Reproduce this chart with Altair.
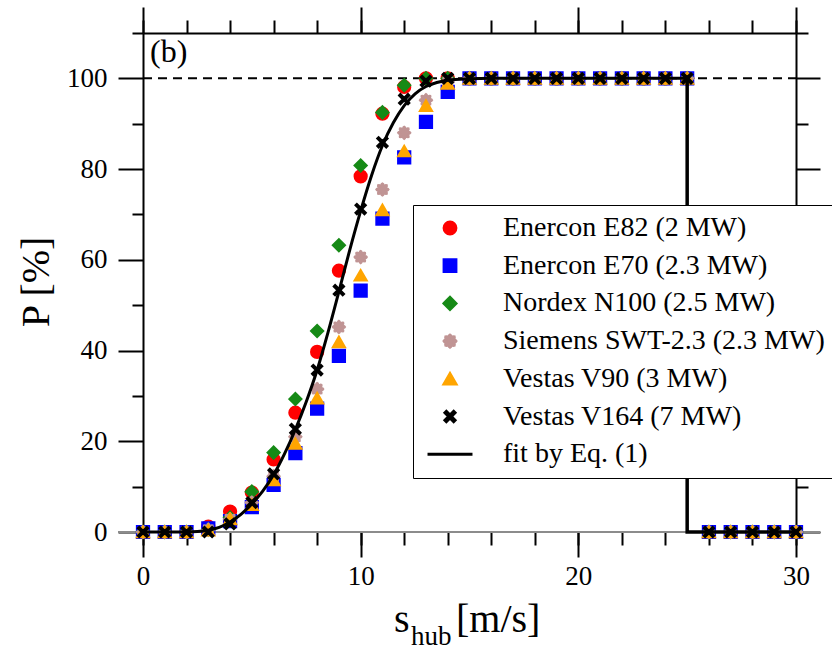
import math
import altair as alt
import pandas as pd

# ---------------- data ----------------
speeds = list(range(0, 31))

names = [
    "Enercon E82 (2 MW)",
    "Enercon E70 (2.3 MW)",
    "Nordex N100 (2.5 MW)",
    "Siemens SWT-2.3 (2.3 MW)",
    "Vestas V90 (3 MW)",
    "Vestas V164 (7 MW)",
    "fit by Eq. (1)",
]

e82 = [0, 0, 0, 1.2, 4.5, 8.7, 16.0, 26.3, 39.7, 57.6, 78.4, 92.2, 98.1, 100, 100,
       100, 100, 100, 100, 100, 100, 100, 100, 100, 100, 100, 0, 0, 0, 0, 0]
e70 = [0, 0, 0, 0.8, 2.4, 5.5, 10.4, 17.4, 27.2, 38.8, 53.2, 69.1, 82.6, 90.4, 97.0,
       100, 100, 100, 100, 100, 100, 100, 100, 100, 100, 100, 0, 0, 0, 0, 0]
n100 = [0, 0, 0, 0.5, 3.2, 8.9, 17.5, 29.3, 44.3, 63.2, 80.8, 92.5, 98.5, 100, 100,
        100, 100, 100, 100, 100, 100, 100, 100, 100, 100, 100, 0, 0, 0, 0, 0]
swt = [0, 0, 0, 0.5, 2.8, 6.5, 12.3, 21.0, 31.5, 45.2, 60.6, 75.5, 88.0, 95.2, 99.2,
       100, 100, 100, 100, 100, 100, 100, 100, 100, 100, 100, 0, 0, 0, 0, 0]
v90 = [0, 0, 0, 0.4, 2.9, 6.0, 11.5, 19.5, 29.5, 41.9, 56.6, 71.0, 84.0, 94.0, 98.9,
       100, 100, 100, 100, 100, 100, 100, 100, 100, 100, 100, 0, 0, 0, 0, 0]
v164 = [0, 0, 0, 0, 1.8, 6.5, 12.8, 22.7, 35.7, 53.3, 71.2, 85.9, 95.4, 99.4, 100,
        100, 100, 100, 100, 100, 100, 100, 100, 100, 100, 100, 0, 0, 0, 0, 0]

fit_x = [0, 1, 2, 2.5, 3, 3.5, 4, 4.5, 5, 5.5, 6, 6.5, 7, 7.5, 8, 8.5, 9, 9.5, 10,
         10.5, 11, 11.5, 12, 12.5, 13, 13.5, 14, 15, 16, 18, 20, 22, 25]
fit_y = [0, 0, 0, 0.1, 0.4, 1.0, 2.2, 3.9, 6.2, 9.0, 12.6, 17.2, 22.6, 28.7, 35.7,
         44.0, 53.0, 62.2, 70.8, 78.6, 85.2, 90.2, 94.0, 96.6, 98.2, 99.1, 99.6,
         99.9, 100, 100, 100, 100, 100]

cutout_x = [25, 25, 30]
cutout_y = [100, 0, 0]

rated_x = [0, 30]
rated_y = [100, 100]

# ---------------- styling ----------------
colors = ["#ff0000", "#0000ff", "#168a16", "#c09494", "#ffa500", "#000000", "#000000"]

x_path = ("M-0.85,-0.62L-0.62,-0.85L0,-0.23L0.62,-0.85L0.85,-0.62L0.23,0L0.85,0.62"
          "L0.62,0.85L0,0.23L-0.62,0.85L-0.85,0.62L-0.23,0Z")
ros = []
for i in range(48):
    a = 2 * math.pi * i / 48
    r = 0.84 + 0.16 * math.cos(8 * a)
    ros.append(f"{r * math.cos(a):.3f},{r * math.sin(a):.3f}")
rosette = "M" + "L".join(ros) + "Z"
line_sym = "M-3.8,0L3.8,0"
shapes = ["circle", "square", "diamond", rosette, "triangle-up", x_path, line_sym]

FONT = "Liberation Serif"
W, H = 653, 499

series = [e82, e70, n100, swt, v90, v164]
rows = []
for name, vals in zip(names[:6], series):
    for s, p in zip(speeds, vals):
        rows.append({"speed": s, "P": p, "turbine": name})
df = pd.DataFrame(rows)

xs = alt.Scale(domain=[0, 30], nice=False, zero=False)
ys = alt.Scale(domain=[0, 110], nice=False, zero=False)

common = dict(grid=False, title=None, tickColor="black", tickWidth=2,
              domainColor="black", domainWidth=2)

ax_bottom_major = alt.Axis(orient="bottom", values=[0, 10, 20, 30], tickSize=25,
                           domain=False, labelFont=FONT, labelFontSize=27,
                           labelColor="black", labelPadding=6, labelFlush=False,
                           labelOverlap=False, **common)
ax_bottom_minor = alt.Axis(orient="bottom", values=list(range(0, 31, 2)), tickSize=13,
                           domain=False, labels=False, **common)
ax_top_major = alt.Axis(orient="top", values=[0, 10, 20, 30], tickSize=26,
                        domain=True, labels=False, **common)
ax_top_minor = alt.Axis(orient="top", values=list(range(0, 31, 2)), tickSize=13,
                        domain=False, labels=False, **common)
ax_left_major = alt.Axis(orient="left", values=[0, 20, 40, 60, 80, 100], tickSize=25,
                         domain=True, labelFont=FONT, labelFontSize=27,
                         labelColor="black", labelPadding=11, labelFlush=False,
                         labelOverlap=False, **common)
ax_left_minor = alt.Axis(orient="left", values=[10, 30, 50, 70, 90, 110], tickSize=11,
                         domain=False, labels=False, **common)
ax_right_major = alt.Axis(orient="right", values=[0, 20, 40, 60, 80, 100], tickSize=24,
                          domain=True, labels=False, **common)
ax_right_minor = alt.Axis(orient="right", values=[10, 30, 50, 70, 90, 110], tickSize=12,
                          domain=False, labels=False, **common)

legend = alt.Legend(
    orient="none", legendX=270, legendY=172, title=None,
    strokeColor="black", fillColor="white", padding=9,
    labelFont=FONT, labelFontSize=28, labelColor="black", labelLimit=600,
    symbolSize=140, symbolStrokeWidth=3, symbolOffset=14, labelOffset=39,
    rowPadding=9.7, symbolOpacity=1,
)

# zero line (grey, extends beyond the frame)
zero_line = alt.Chart(pd.DataFrame({"y": [0]})).mark_rule(
    color="#8c8c8c", strokeWidth=2
).encode(x=alt.value(-25), x2=alt.value(W + 24), y=alt.Y("y:Q", scale=ys, axis=None))

rated = alt.Chart(pd.DataFrame({"x": rated_x, "y": rated_y})).mark_line(
    color="black", strokeWidth=2, strokeDash=[9, 6]
).encode(x=alt.X("x:Q", scale=xs, axis=ax_top_minor),
         y=alt.Y("y:Q", scale=ys, axis=ax_right_minor))

points = alt.Chart(df).mark_point(filled=True, size=150, opacity=1).encode(
    x=alt.X("speed:Q", scale=xs, axis=ax_bottom_major),
    y=alt.Y("P:Q", scale=ys, axis=ax_left_major),
    fill=alt.Fill("turbine:N", scale=alt.Scale(domain=names, range=colors), legend=legend),
    stroke=alt.Stroke("turbine:N", scale=alt.Scale(domain=names, range=colors)),
    shape=alt.Shape("turbine:N", scale=alt.Scale(domain=names, range=shapes)),
)

fit = alt.Chart(pd.DataFrame({"x": fit_x, "y": fit_y})).mark_line(
    color="black", strokeWidth=3, interpolate="monotone"
).encode(x=alt.X("x:Q", scale=xs, axis=ax_bottom_minor),
         y=alt.Y("y:Q", scale=ys, axis=ax_left_minor))

cutout = alt.Chart(pd.DataFrame({"x": cutout_x, "y": cutout_y, "o": [0, 1, 2]})).mark_line(
    color="black", strokeWidth=3.5
).encode(x=alt.X("x:Q", scale=xs, axis=ax_top_major),
         y=alt.Y("y:Q", scale=ys, axis=ax_right_major),
         order="o:Q")

# text annotations (panel label and axis titles)
def label(txt, x, y, size, **kw):
    return alt.Chart(pd.DataFrame({"t": [txt]})).mark_text(
        font=FONT, fontSize=size, color="black", **kw
    ).encode(x=alt.value(x), y=alt.value(y), text="t:N")

panel = label("(b)", 7, 29, 32, align="left", baseline="alphabetic")
y_title = label("P [%]", -106, 249, 40, align="center", baseline="middle", angle=270)
x_s = label("s", 251, 599, 40, align="left", baseline="alphabetic")
x_hub = label("hub", 268, 612, 27, align="left", baseline="alphabetic")
x_unit = label("[m/s]", 313, 599, 40, align="left", baseline="alphabetic")

chart = alt.layer(
    zero_line, rated, points, fit, cutout, panel, y_title, x_s, x_hub, x_unit
).resolve_axis(x="independent", y="independent").properties(
    width=W, height=H,
    autosize=alt.AutoSizeParams(type="none"),
    padding={"left": 143, "top": 33, "right": 36, "bottom": 118},
).configure_view(stroke=None)

chart.save("out.html", embed_options={"renderer": "svg", "actions": False})
